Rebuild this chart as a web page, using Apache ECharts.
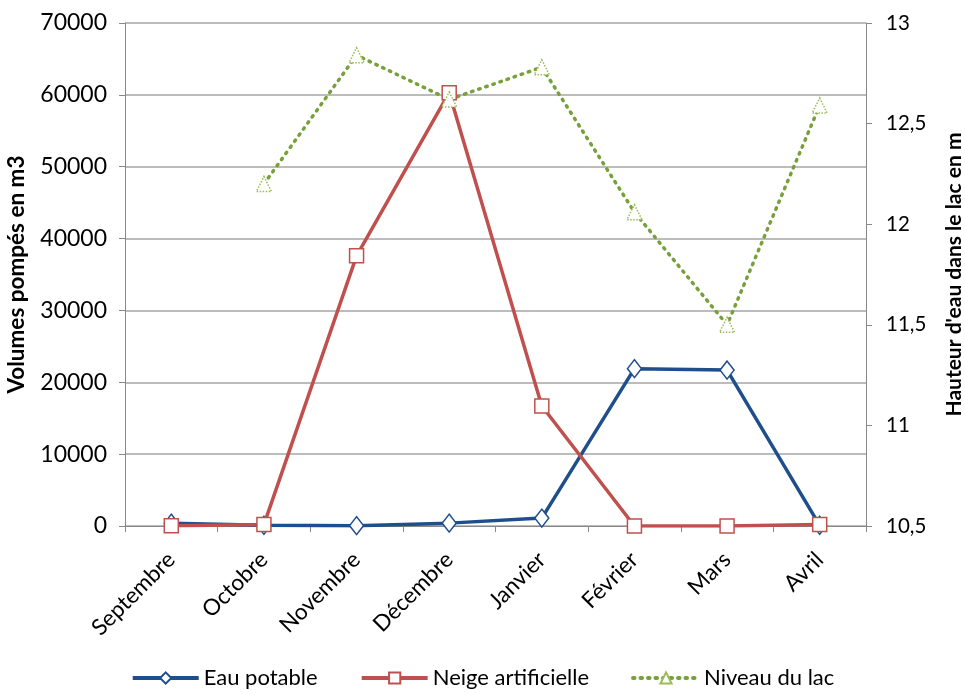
<!DOCTYPE html>
<html><head><meta charset="utf-8">
<script src="https://cdn.jsdelivr.net/npm/echarts@6/dist/echarts.min.js"></script>
<style>html,body{margin:0;padding:0;background:#fff}#c{width:965px;height:694px}</style>
</head><body><div id="c"></div>
<script>
const categories = ['Septembre','Octobre','Novembre','Décembre','Janvier','Février','Mars','Avril'];
const eauPotable = [400, 100, 50, 400, 1100, 21900, 21700, 100];
const neige = [50, 200, 37600, 60300, 16700, 0, 0, 200];
const niveau = [null, 12.2, 12.84, 12.62, 12.78, 12.06, 11.5, 12.59];
const leftTicks = [0, 70000, 10000];
const rightTicks = [10.5, 13, 0.5];

const font = 'Lato, "Open Sans", sans-serif';
const chart = echarts.init(document.getElementById('c'));
chart.setOption({
  animation: false,
  textStyle: {fontFamily: font},
  grid: {left: 125, right: 99, top: 23, bottom: 168, containLabel: false, outerBoundsMode: 'none'},
  legend: {
    bottom: 0, left: 'center', itemWidth: 66, itemHeight: 14, itemGap: 42,
    textStyle: {fontSize: 22, color: '#000', fontFamily: font},
    lineStyle: {width: 4},
    data: ['Eau potable', 'Neige artificielle', 'Niveau du lac']
  },
  xAxis: {
    type: 'category', data: categories, boundaryGap: true,
    axisLine: {lineStyle: {color: '#888'}},
    axisTick: {show: true, length: 6, lineStyle: {color: '#888'}},
    axisLabel: {rotate: 45, fontSize: 22.5, color: '#000', margin: 30, fontFamily: font}
  },
  yAxis: [
    {
      type: 'value', min: leftTicks[0], max: leftTicks[1], interval: leftTicks[2],
      name: 'Volumes pompés en m3', nameLocation: 'middle', nameGap: 97, nameRotate: 90,
      nameTextStyle: {fontSize: 22.5, fontWeight: 'bold', color: '#000', fontFamily: font},
      axisLine: {show: true, lineStyle: {color: '#888'}},
      axisTick: {show: true, length: 6, lineStyle: {color: '#888'}},
      axisLabel: {fontSize: 23, color: '#000', margin: 18, fontFamily: font,
        formatter: v => String(v)},
      splitLine: {show: true, lineStyle: {color: '#a6a6a6', width: 1.5}}
    },
    {
      type: 'value', min: rightTicks[0], max: rightTicks[1], interval: rightTicks[2],
      position: 'right',
      name: "Hauteur d'eau dans le lac en m", nameLocation: 'middle', nameGap: 78, nameRotate: 90,
      nameTextStyle: {fontSize: 21, fontWeight: 'bold', color: '#000', fontFamily: font},
      axisLine: {show: true, lineStyle: {color: '#888'}},
      axisTick: {show: true, length: 6, lineStyle: {color: '#888'}},
      axisLabel: {fontSize: 20.5, color: '#000', margin: 20, fontFamily: font,
        formatter: v => String(v).replace('.', ',')},
      splitLine: {show: false}
    }
  ],
  series: [
    {
      name: 'Eau potable', type: 'line', yAxisIndex: 0, data: eauPotable,
      symbol: 'diamond', symbolSize: [14, 18], showAllSymbol: true,
      lineStyle: {color: '#1f4e8c', width: 3.5},
      itemStyle: {color: '#fff', borderColor: '#1f4e8c', borderWidth: 1.5}
    },
    {
      name: 'Neige artificielle', type: 'line', yAxisIndex: 0, data: neige,
      symbol: 'rect', symbolSize: 14, showAllSymbol: true,
      lineStyle: {color: '#c0504d', width: 3.5},
      itemStyle: {color: '#fff', borderColor: '#c0504d', borderWidth: 1.5}
    },
    {
      name: 'Niveau du lac', type: 'line', yAxisIndex: 1, data: niveau,
      symbol: 'triangle', symbolSize: 15, showAllSymbol: true,
      lineStyle: {color: '#77a03a', width: 3.5, type: [1.5, 6], cap: 'round'},
      itemStyle: {color: '#fff', borderColor: '#9bbb59', borderWidth: 1.5, borderType: 'dotted'}
    }
  ]
});
</script></body></html>
